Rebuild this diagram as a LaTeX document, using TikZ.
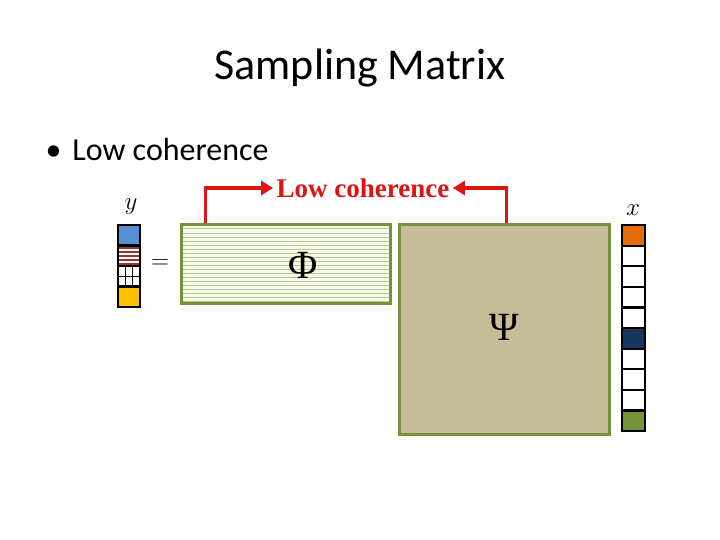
\documentclass[tikz,border=0pt]{standalone}
\usepackage{fontspec}
\setmainfont{Carlito}
\newfontfamily\timesbf{Liberation Serif}
\usepackage{tikz}
\usetikzlibrary{arrows.meta,positioning}
\definecolor{olivegreen}{RGB}{118,146,60}
\definecolor{olivebox}{RGB}{196,189,151}
\definecolor{palegreen}{RGB}{248,250,234}
\definecolor{stripegreen}{RGB}{182,200,140}
\definecolor{cellblue}{RGB}{85,142,213}
\definecolor{cellred}{RGB}{150,54,52}
\definecolor{cellyellow}{RGB}{255,192,0}
\definecolor{cellorange}{RGB}{227,108,9}
\definecolor{cellnavy}{RGB}{23,54,93}
\definecolor{arrowred}{RGB}{220,20,20}
\tikzset{
  matbox/.style={draw=olivegreen,line width=3pt,minimum width=#1,inner sep=0pt},
  veccell/.style={draw=black,line width=2.2pt},
  redarrow/.style={draw=arrowred,line width=3.8pt,-{Triangle[length=12pt,width=14pt]}},
}
\begin{document}
\begin{tikzpicture}[x=1pt,y=-1pt]
\useasboundingbox (0,0) rectangle (720,540);
\fill[white] (0,0) rectangle (720,540);
% title and bullet
\node (title) at (360,68) {\fontsize{44}{48}\selectfont Sampling Matrix};
\node[right] (bullet) at (42,150) {\fontsize{32}{36}\selectfont \textbullet\hspace{11pt}Low coherence};
% Psi matrix
\node[matbox=210pt,minimum height=209pt,fill=olivebox] (psi) at (504,329.5) {};
\node at (504,327) {\timesbf\fontsize{40}{42}\selectfont Ψ};
% Phi matrix with stripes
\fill[palegreen] (181,225) rectangle (390,303);
\foreach \yy in {229,233,...,301}
  \draw[stripegreen,line width=1pt] (182,\yy) -- (389,\yy);
\node[matbox=209pt,minimum height=78pt] (phi) at (285.5,264) {};
\node at (303,265) {\timesbf\fontsize{40}{42}\selectfont Φ};
% y vector
\fill[cellblue] (118,225) rectangle (140,245.5);
\foreach \yy in {248,252,...,264}
  \draw[cellred,line width=1.5pt] (118,\yy) -- (140,\yy);
\draw[black,line width=1.4pt] (125.3,266) -- (125.3,286.5) (132.7,266) -- (132.7,286.5)
  (118,276.2) -- (140,276.2);
\fill[cellyellow] (118,286.5) rectangle (140,307);
\foreach \yy in {225,245.5,266,286.5}
  \draw[veccell] (118,\yy) rectangle (140,\yy+20.5);
\node (ylab) at (131,207) {\fontsize{25}{27}\selectfont $y$};
\node (eq) at (160,264) {\fontsize{30}{32}\selectfont $=$};
% x vector
\foreach \i/\c in {0/cellorange,1/white,2/white,3/white,4/white,5/cellnavy,6/white,7/white,8/white,9/olivegreen}
  \draw[veccell,fill=\c] (622,225+20.6*\i) rectangle (645,225+20.6*\i+20.6);
\node (xlab) at (633,210) {\fontsize{25}{27}\selectfont $x$};
% coherence arrows
\node (lowc) at (363,188) {\timesbf\bfseries\fontsize{27}{30}\selectfont\color{arrowred} Low coherence};
\coordinate (phistart) at ([xshift=26pt]phi.north west);
\coordinate (psistart) at ([xshift=-104pt]psi.north east);
\draw[redarrow] (phistart) |- (lowc.west);
\draw[redarrow] (psistart) |- (lowc.east);
\end{tikzpicture}
\end{document}
